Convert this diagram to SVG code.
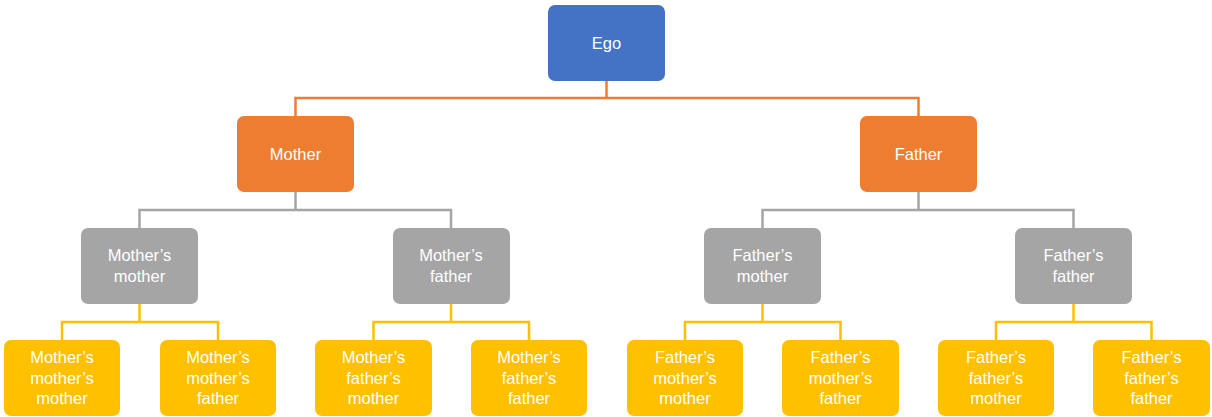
<svg xmlns="http://www.w3.org/2000/svg" width="1212" height="417" viewBox="0 0 1212 417">
<style>
.n rect{stroke:none}
.l1 rect{fill:#4472C4}
.l2 rect{fill:#ED7D31}
.l3 rect{fill:#A5A5A5}
.l4 rect{fill:#FFC000}
text{font-family:"Liberation Sans",Arial,sans-serif;font-size:16.5px;fill:#FFFFFF;text-anchor:middle;dominant-baseline:central}
.c path{fill:none;stroke-width:2.5}
.c .o{stroke:#ED7D31}
.c .g{stroke:#A5A5A5}
.c .y{stroke:#FFC000}
</style>
<rect width="1212" height="417" fill="#FFFFFF"/>
<g id="connectors" class="c">
<path class="o" d="M606.5 81V98M295.5 116V98H918.5V116"/>
<path class="g" d="M295.5 192V210M139.5 228V210H451V228"/>
<path class="g" d="M918.5 192V210M762.5 228V210H1073.5V228"/>
<path class="y" d="M139.5 304V322M62 340V322H218V340"/>
<path class="y" d="M451 304V322M373.5 340V322H529V340"/>
<path class="y" d="M762.5 304V322M685 340V322H840.5V340"/>
<path class="y" d="M1073.5 304V322M996 340V322H1151.5V340"/>
</g>
<g id="ego" class="n l1"><rect x="548" y="5" width="117" height="76" rx="7"/><text x="606.5" y="43">Ego</text></g>
<g id="mother" class="n l2"><rect x="237" y="116" width="117" height="76" rx="7"/><text x="295.5" y="154">Mother</text></g>
<g id="father" class="n l2"><rect x="860" y="116" width="117" height="76" rx="7"/><text x="918.5" y="154">Father</text></g>
<g id="mm" class="n l3"><rect x="81" y="228" width="117" height="76" rx="7"/><text x="139.5" y="255">Mother’s</text><text x="139.5" y="276">mother</text></g>
<g id="mf" class="n l3"><rect x="393" y="228" width="117" height="76" rx="7"/><text x="451" y="255">Mother’s</text><text x="451" y="276">father</text></g>
<g id="fm" class="n l3"><rect x="704" y="228" width="117" height="76" rx="7"/><text x="762.5" y="255">Father’s</text><text x="762.5" y="276">mother</text></g>
<g id="ff" class="n l3"><rect x="1015" y="228" width="117" height="76" rx="7"/><text x="1073.5" y="255">Father’s</text><text x="1073.5" y="276">father</text></g>
<g id="mmm" class="n l4"><rect x="4" y="340" width="116" height="76" rx="7"/><text x="62" y="357">Mother’s</text><text x="62" y="377.5">mother’s</text><text x="62" y="398">mother</text></g>
<g id="mmf" class="n l4"><rect x="160" y="340" width="116" height="76" rx="7"/><text x="218" y="357">Mother’s</text><text x="218" y="377.5">mother’s</text><text x="218" y="398">father</text></g>
<g id="mfm" class="n l4"><rect x="315" y="340" width="117" height="76" rx="7"/><text x="373.5" y="357">Mother’s</text><text x="373.5" y="377.5">father’s</text><text x="373.5" y="398">mother</text></g>
<g id="mff" class="n l4"><rect x="471" y="340" width="116" height="76" rx="7"/><text x="529" y="357">Mother’s</text><text x="529" y="377.5">father’s</text><text x="529" y="398">father</text></g>
<g id="fmm" class="n l4"><rect x="627" y="340" width="116" height="76" rx="7"/><text x="685" y="357">Father’s</text><text x="685" y="377.5">mother’s</text><text x="685" y="398">mother</text></g>
<g id="fmf" class="n l4"><rect x="782" y="340" width="117" height="76" rx="7"/><text x="840.5" y="357">Father’s</text><text x="840.5" y="377.5">mother’s</text><text x="840.5" y="398">father</text></g>
<g id="ffm" class="n l4"><rect x="938" y="340" width="116" height="76" rx="7"/><text x="996" y="357">Father’s</text><text x="996" y="377.5">father’s</text><text x="996" y="398">mother</text></g>
<g id="fff" class="n l4"><rect x="1093" y="340" width="117" height="76" rx="7"/><text x="1151.5" y="357">Father’s</text><text x="1151.5" y="377.5">father’s</text><text x="1151.5" y="398">father</text></g>
</svg>
